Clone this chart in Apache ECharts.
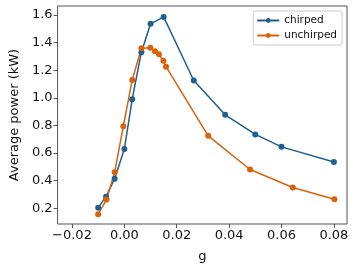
<!DOCTYPE html>
<html>
<head>
<meta charset="utf-8">
<script src="https://cdn.jsdelivr.net/npm/echarts@6/dist/echarts.min.js"></script>
<style>html,body{margin:0;padding:0;background:#fff}#c{width:357px;height:268px}</style>
</head>
<body>
<div id="c"></div>
<script>
const chirpedG = [-0.01, -0.007, -0.0037, 0.0, 0.003, 0.0065, 0.01, 0.015, 0.0265, 0.0385, 0.05, 0.06, 0.08];
const chirpedP = [0.205, 0.285, 0.414, 0.63, 0.99, 1.33, 1.535, 1.585, 1.125, 0.877, 0.735, 0.645, 0.535];
const unchirpedG = [-0.01, -0.0068, -0.0037, -0.0004, 0.003, 0.0065, 0.0099, 0.0117, 0.0132, 0.0149, 0.0159, 0.032, 0.048, 0.0643, 0.0802];
const unchirpedP = [0.158, 0.264, 0.462, 0.794, 1.129, 1.358, 1.362, 1.336, 1.315, 1.268, 1.225, 0.725, 0.481, 0.351, 0.266];
const xTicks = [-0.02, 0.0, 0.02, 0.04, 0.06, 0.08];
const yTicks = [0.2, 0.4, 0.6, 0.8, 1.0, 1.2, 1.4, 1.6];
const seriesNames = ['chirped', 'unchirped'];
const xLabel = 'g';
const yLabel = 'Average power (kW)';

const blue = '#215f8d';
const orange = '#d9620b';
const font = 'DejaVu Sans';
const chart = echarts.init(document.getElementById('c'), null, {renderer: 'canvas'});
const zip = (a, b) => a.map((v, i) => [v, b[i]]);
chart.setOption({
  animation: false,
  grid: {left: 56, right: 10, top: 6, bottom: 39, show: true, borderColor: '#555', borderWidth: 1, backgroundColor: 'transparent'},
  legend: {
    right: 15, top: 11, orient: 'vertical', itemGap: 4, itemWidth: 22, itemHeight: 6,
    padding: [4, 5, 4, 3],
    borderColor: '#ccc', borderWidth: 1, borderRadius: 2, backgroundColor: '#fff',
    textStyle: {fontFamily: font, fontSize: 10.5, color: '#111'},
    data: seriesNames
  },
  xAxis: {
    type: 'value', min: -0.0255, max: 0.085,
    name: xLabel, nameLocation: 'middle', nameGap: 26,
    nameTextStyle: {fontFamily: font, fontSize: 13, color: '#111'},
    axisLine: {show: false, onZero: false},
    splitLine: {show: false},
    axisTick: {show: true, length: 4, lineStyle: {color: '#555'}, customValues: xTicks},
    axisLabel: {fontFamily: font, fontSize: 13, color: '#111', margin: 5, customValues: xTicks,
      formatter: v => (v < 0 ? '\u2212' : '') + Math.abs(v).toFixed(2)}
  },
  yAxis: {
    type: 'value', min: 0.087, max: 1.664,
    name: yLabel, nameLocation: 'middle', nameGap: 36,
    nameTextStyle: {fontFamily: font, fontSize: 13, color: '#111'},
    axisLine: {show: false, onZero: false},
    splitLine: {show: false},
    axisTick: {show: true, length: 4, lineStyle: {color: '#555'}, customValues: yTicks},
    axisLabel: {fontFamily: font, fontSize: 13, color: '#111', margin: 5, customValues: yTicks,
      formatter: v => v.toFixed(1)}
  },
  series: [
    {name: seriesNames[0], type: 'line', data: zip(chirpedG, chirpedP), color: blue,
      symbol: 'circle', symbolSize: 6, lineStyle: {width: 1.5}, itemStyle: {color: blue}},
    {name: seriesNames[1], type: 'line', data: zip(unchirpedG, unchirpedP), color: orange,
      symbol: 'circle', symbolSize: 6, lineStyle: {width: 1.5}, itemStyle: {color: orange}}
  ]
});
</script>
</body>
</html>
